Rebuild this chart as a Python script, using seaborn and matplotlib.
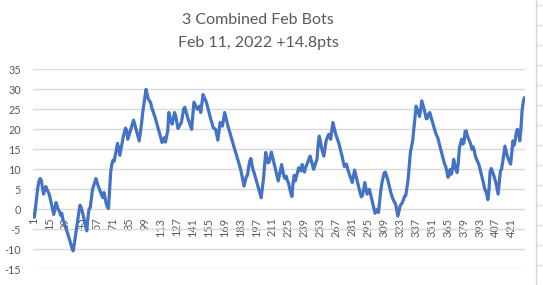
import matplotlib
matplotlib.use("Agg")
import matplotlib.pyplot as plt
import seaborn as sns
import pandas as pd
from matplotlib.lines import Line2D

title_line1 = "3 Combined Feb Bots"
title_line2 = "Feb 11, 2022 +14.8pts"

values = [
    -1.0, -2.0, 0.5, 3.0, 5.5, 7.0, 7.7, 7.3, 5.5, 3.8, 4.8, 5.7, 5.0, 4.4, 3.8, 2.5, 1.2, 0.0, -1.3, 0.2,
    1.7, 0.8, -0.2, -0.5, -1.5, -1.0, -2.5, -3.3, -4.2, -5.0, -5.9, -6.8, -7.8, -8.8, -9.7, -10.4, -8.7, -6.6, -4.7, -2.7,
    -0.8, 1.0, 0.5, -0.5, -1.8, -3.0, -4.2, -5.4, -2.0, 0.1, 0.4, 2.7, 5.0, 5.9, 6.8, 7.7, 6.8, 5.8, 5.1, 4.3,
    3.6, 2.9, 4.2, 2.9, 1.5, 0.6, 0.2, 4.7, 9.5, 11.3, 12.3, 12.0, 13.5, 15.0, 16.5, 15.0, 13.5, 15.0, 16.6, 18.2,
    19.2, 20.3, 19.6, 17.5, 18.5, 19.4, 20.4, 21.3, 22.3, 21.3, 20.2, 19.2, 18.1, 17.1, 19.2, 21.3, 24.1, 26.2, 28.1, 30.0,
    28.7, 27.5, 27.1, 26.7, 25.4, 24.6, 23.7, 22.9, 21.9, 21.0, 20.0, 18.9, 17.8, 16.7, 17.3, 17.9, 16.8, 18.2, 19.6, 24.2,
    23.0, 21.8, 21.3, 22.8, 24.2, 23.4, 21.8, 20.2, 20.7, 21.2, 21.7, 23.4, 25.1, 25.5, 24.5, 23.5, 22.5, 21.7, 20.8, 20.0,
    23.4, 26.8, 26.2, 25.6, 25.0, 25.4, 25.8, 24.2, 26.5, 28.7, 28.0, 27.4, 26.7, 25.6, 24.4, 23.3, 22.3, 21.4, 20.4, 20.2,
    20.0, 18.6, 17.3, 19.5, 21.7, 21.2, 20.8, 22.5, 24.2, 23.0, 21.7, 20.7, 19.7, 18.7, 17.8, 16.8, 15.8, 14.8, 13.9, 12.9,
    11.9, 11.0, 10.0, 8.6, 7.2, 5.8, 7.0, 8.2, 8.5, 10.5, 12.0, 12.7, 11.0, 9.8, 9.0, 8.0, 7.1, 6.0, 5.0, 3.9,
    2.9, 5.2, 7.5, 10.8, 14.2, 12.7, 11.6, 11.8, 13.0, 14.3, 13.1, 12.0, 10.8, 9.6, 8.3, 7.1, 8.5, 9.9, 11.2, 9.7,
    8.2, 7.7, 8.3, 7.2, 6.6, 5.2, 4.2, 3.2, 6.5, 8.5, 7.1, 8.2, 9.3, 10.4, 10.0, 9.6, 11.2, 10.2, 9.3, 10.4,
    11.1, 11.8, 12.6, 13.3, 12.2, 11.1, 10.0, 10.8, 11.7, 12.5, 16.0, 18.3, 17.0, 15.4, 14.3, 13.3, 15.2, 17.1, 17.9, 18.6,
    18.8, 17.5, 19.6, 21.7, 20.5, 19.3, 18.3, 17.5, 16.7, 15.6, 14.4, 13.3, 12.0, 10.7, 11.0, 11.3, 10.0, 9.2, 8.3, 7.5,
    6.7, 8.3, 9.8, 8.7, 7.5, 6.3, 5.0, 4.0, 3.1, 3.5, 5.1, 6.7, 5.2, 3.8, 4.4, 5.0, 3.8, 2.5, 1.3, 0.1,
    -1.0, -0.5, 0.0, -0.8, 1.9, 4.7, 6.6, 7.9, 9.1, 9.3, 8.4, 7.5, 6.3, 5.0, 4.0, 3.1, 2.4, 1.8, 1.3, -0.2,
    -1.7, -0.5, 0.8, 1.3, 1.7, 2.5, 3.3, 3.5, 5.5, 7.5, 10.8, 14.2, 15.7, 17.1, 20.0, 22.9, 25.8, 25.0, 24.2, 23.2,
    24.9, 27.1, 26.1, 25.1, 23.8, 22.6, 22.8, 23.8, 24.2, 23.2, 22.2, 21.2, 20.2, 19.2, 18.5, 17.9, 16.8, 15.7, 14.6, 13.5,
    12.4, 11.3, 10.7, 9.5, 8.0, 8.5, 10.0, 8.8, 10.2, 12.5, 11.1, 9.8, 9.2, 11.5, 15.4, 16.5, 17.5, 16.3, 16.6, 19.5,
    19.6, 18.4, 17.6, 17.0, 16.2, 15.0, 15.6, 14.8, 13.3, 12.6, 11.9, 11.3, 10.2, 9.0, 7.9, 6.6, 5.4, 4.6, 3.8, 2.4,
    5.0, 9.5, 10.2, 9.5, 8.6, 7.7, 6.7, 5.2, 3.8, 6.7, 9.6, 10.0, 11.8, 13.8, 15.8, 14.6, 13.3, 12.6, 11.9, 11.3,
    14.2, 17.1, 16.0, 17.2, 19.3, 20.0, 19.2, 17.1, 20.0, 24.6, 26.8, 27.9,
]
categories = list(range(1, len(values) + 1))
x_tick_labels = [1, 15, 29, 43, 57, 71, 85, 99, 113, 127, 141, 155, 169, 183, 197, 211,
                 225, 239, 253, 267, 281, 295, 309, 323, 337, 351, 365, 379, 393, 407, 421]
y_ticks = [-15, -10, -5, 0, 5, 10, 15, 20, 25, 30, 35]

sns.set_theme(style="white")
plt.rcParams['font.family'] = ['Lato', 'DejaVu Sans']

W, H = 543, 285
fig = plt.figure(figsize=(W / 100, H / 100), dpi=100)
ax = fig.add_axes([32.7 / W, (H - 269.3) / H, 492.2 / W, 200 / H])

for s in ax.spines.values():
    s.set_visible(False)
ax.spines['bottom'].set_position(('data', 0))

df = pd.DataFrame({"cat": categories, "val": values})
sns.lineplot(data=df, x="cat", y="val", ax=ax, color="#4472C4", linewidth=2.3,
             solid_joinstyle="round", solid_capstyle="round")

ax.set_xlim(0.5, len(values) + 0.5)
ax.set_ylim(-15, 35)
ax.set_yticks(y_ticks)
ax.set_yticklabels([str(v) for v in y_ticks])
ax.set_xticks(x_tick_labels)
ax.set_xticklabels([str(v) for v in x_tick_labels])
ax.set_xlabel("")
ax.set_ylabel("")

ax.grid(axis="y", color="#D9D9D9", linewidth=1.0)
ax.grid(axis="x", visible=False)
ax.set_axisbelow(True)
ax.tick_params(axis="y", length=0, pad=8.4, labelsize=7.8, labelcolor="#595959")
ax.tick_params(axis="x", length=0, pad=6.0, labelsize=7.8, labelcolor="#595959", labelrotation=90)
for lab in ax.get_xticklabels():
    lab.set_va("top")
    lab.set_ha("center")

fig.text(258 / W, 1 - 19.5 / H, title_line1, ha="center", va="center", fontsize=11.5, color="#595959")
fig.text(258 / W, 1 - 43.5 / H, title_line2, ha="center", va="center", fontsize=11.5, color="#595959")

# spreadsheet border at the right edge of the screenshot
fig.add_artist(Line2D([536 / W, 536 / W], [0, 1], transform=fig.transFigure, color="#D4D4D4", linewidth=1))
for yy in range(5, 286, 20):
    fig.add_artist(Line2D([536 / W, 1], [1 - yy / H, 1 - yy / H], transform=fig.transFigure,
                          color="#E1E1E1", linewidth=1))

fig.savefig("out.png", dpi=100)
